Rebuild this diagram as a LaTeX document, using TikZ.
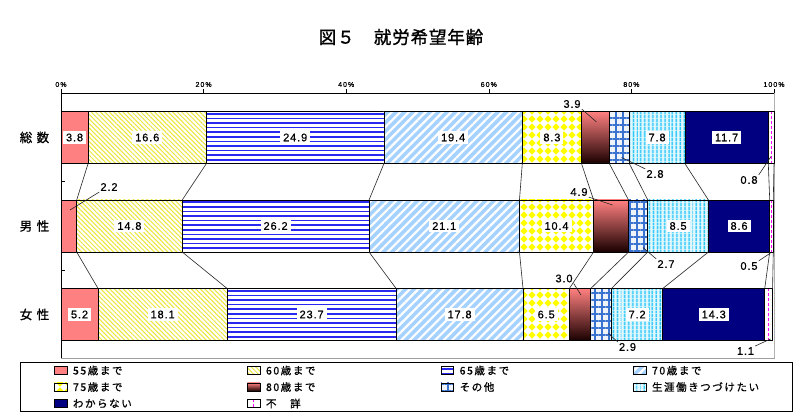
\documentclass[tikz,border=0pt]{standalone}
\usepackage{fontspec}
\usetikzlibrary{patterns}
\usetikzlibrary{patterns.meta}
\setmainfont{Liberation Sans}
\newfontfamily\jpfont[LetterSpace=5,FakeBold=1.2]{Noto Sans CJK JP}
\newfontfamily\catfont[LetterSpace=35,FakeBold=1]{Noto Sans CJK JP}
\newfontfamily\legfont[LetterSpace=15,FakeBold=0.8]{Noto Sans CJK JP}
\newfontfamily\numfont[LetterSpace=8,FakeBold=0.6]{Liberation Sans}
\newfontfamily\tickfont[LetterSpace=15,FakeBold=0.6]{Liberation Sans}
\definecolor{c55}{HTML}{FF8080}
\definecolor{c60}{HTML}{ECE63A}
\definecolor{c65}{HTML}{2828F0}
\definecolor{c70}{HTML}{A6D2FF}
\definecolor{c75}{HTML}{FFFF00}
\definecolor{c80}{HTML}{1A0000}
\definecolor{coth}{HTML}{3A72D0}
\definecolor{clife}{HTML}{1EC4FA}
\definecolor{cnone}{HTML}{000080}
\definecolor{cunk}{HTML}{FF00FF}
\pgfdeclarepatternformonly{ydiamonds}{\pgfpoint{-1pt}{-1pt}}{\pgfpoint{9pt}{9pt}}{\pgfpoint{8pt}{8pt}}{
  \pgfpathmoveto{\pgfpoint{4pt}{0.4pt}}
  \pgfpathlineto{\pgfpoint{7.6pt}{4pt}}
  \pgfpathlineto{\pgfpoint{4pt}{7.6pt}}
  \pgfpathlineto{\pgfpoint{0.4pt}{4pt}}
  \pgfpathclose
  \pgfusepath{fill}}

\begin{document}
\begin{tikzpicture}
[x=1pt, y=-1pt,
every node/.style = {inner sep=0pt}]
\tikzstyle{seg} = [draw=black, line width=0.7pt]
\tikzstyle{swatch} = [draw=black, line width=0.6pt, minimum width=12.5pt, minimum height=8pt]
\tikzstyle{val} = [fill=white, inner xsep=3pt, inner ysep=2.5pt, font={\numfont\fontsize{11}{13}\selectfont}]
\tikzstyle{small} = [inner sep=1pt, font={\numfont\fontsize{11}{13}\selectfont}]
\tikzstyle{leg} = [anchor=west, font={\legfont\fontsize{10.5}{12}\selectfont}]
\tikzstyle{ticklab} = [font={\tickfont\fontsize{7}{8}\selectfont}]
\tikzstyle{lead} = [draw=black!85, line width=0.6pt]
\tikzstyle{link} = [draw=black!85, line width=0.6pt]
\tikzstyle{s55} = [fill=c55]
\tikzstyle{s60} = [preaction={fill=white}, pattern={Lines[angle=-45,distance=3.2pt,line width=1pt]}, pattern color=c60]
\tikzstyle{s65} = [fill=white, path picture={\foreach \k in {0,...,11} \draw[c65, line width=1.6pt] ([yshift={-2.3pt-\k*4.6pt}]path picture bounding box.north west) -- ([yshift={-2.3pt-\k*4.6pt}]path picture bounding box.north east);}]
\tikzstyle{s70} = [preaction={fill=c70}, pattern={Lines[angle=45,distance=6pt,line width=2.2pt]}, pattern color=white]
\tikzstyle{s75} = [preaction={fill=white}, pattern=ydiamonds, pattern color=c75]
\tikzstyle{s80} = [top color=c55, bottom color=c80]
\tikzstyle{soth} = [preaction={fill=coth!8}, pattern={Hatch[angle=0,distance=7pt,line width=1.2pt]}, pattern color=coth]
\tikzstyle{slife} = [preaction={fill=clife!12}, pattern={Lines[angle=90,distance=4pt,line width=1.6pt]}, pattern color=clife]
\tikzstyle{snone} = [fill=cnone]
\tikzstyle{sunk} = [fill=white, path picture={\draw[cunk, dash pattern=on 3pt off 2pt, line width=1.3pt] (path picture bounding box.north) -- (path picture bounding box.south);}]

\path[use as bounding box, fill=white] (0,0) rectangle (807,419);

\node (title) at (401,37) {\jpfont\fontsize{17.5}{20}\selectfont 図５　就労希望年齢};

\node (cat1) at (34.5,137.5) {\catfont\fontsize{12.5}{15}\selectfont 総数};
\node (cat2) at (34.5,226) {\catfont\fontsize{12.5}{15}\selectfont 男性};
\node (cat3) at (34.5,314.5) {\catfont\fontsize{12.5}{15}\selectfont 女性};

% plot frame
\draw[gray!60, line width=1.5pt] (774.5,93) -- (774.5,358.5);
\draw[gray!75, line width=1pt] (61,358.5) -- (775,358.5);
\draw[line width=0.8pt] (61,358.5) -- (61,93) -- (774,93);
\draw (61,181.5) -- (64.5,181.5);
\draw (61,270) -- (64.5,270);

\begin{scope}[xshift=61pt, x=7.13pt]
\foreach \p in {0,20,...,100}{
  \draw (\p,93) -- (\p,89);
  \node[ticklab] (tk\p) at (\p,84.5) {\p\%};
}

% 総数
\foreach \a/\b/\s/\v [count=\i] in {0/3.8/s55/3.8, 3.8/20.4/s60/16.6, 20.4/45.3/s65/24.9, 45.3/64.7/s70/19.4, 64.7/73.0/s75/8.3, 73.0/76.9/s80/0, 76.9/79.7/soth/0, 79.7/87.5/slife/7.8, 87.5/99.2/snone/11.7, 99.2/100/sunk/0}{
  \draw[seg,\s] (\a,111.5) rectangle (\b,163.5);
  \coordinate (t1-\i) at (\b,111.5);
  \coordinate (b1-\i) at (\b,163.5);
  \ifdim\v pt>0pt \node[val] (v1-\i) at ({(\a+\b)/2},137.5) {\v}; \fi
}

% 男性
\foreach \a/\b/\s/\v [count=\i] in {0/2.2/s55/0, 2.2/17.0/s60/14.8, 17.0/43.2/s65/26.2, 43.2/64.3/s70/21.1, 64.3/74.7/s75/10.4, 74.7/79.6/s80/0, 79.6/82.3/soth/0, 82.3/90.8/slife/8.5, 90.8/99.4/snone/8.6, 99.4/99.9/sunk/0}{
  \draw[seg,\s] (\a,200) rectangle (\b,252);
  \coordinate (t2-\i) at (\b,200);
  \coordinate (b2-\i) at (\b,252);
  \ifdim\v pt>0pt \node[val] (v2-\i) at ({(\a+\b)/2},226) {\v}; \fi
}

% 女性
\foreach \a/\b/\s/\v [count=\i] in {0/5.2/s55/5.2, 5.2/23.3/s60/18.1, 23.3/47.0/s65/23.7, 47.0/64.8/s70/17.8, 64.8/71.3/s75/6.5, 71.3/74.3/s80/0, 74.3/77.2/soth/0, 77.2/84.4/slife/7.2, 84.4/98.7/snone/14.3, 98.7/99.8/sunk/0}{
  \draw[seg,\s] (\a,288.5) rectangle (\b,340.5);
  \coordinate (t3-\i) at (\b,288.5);
  \coordinate (b3-\i) at (\b,340.5);
  \ifdim\v pt>0pt \node[val] (v3-\i) at ({(\a+\b)/2},314.5) {\v}; \fi
}

\foreach \i in {1,...,10}{
  \draw[link] (b1-\i) -- (t2-\i);
  \draw[link] (b2-\i) -- (t3-\i);
}
\end{scope}

% small values
\node[small] (v1-6) at (572,104) {3.9};
\node[small] (v1-7) at (655,174) {2.8};
\node[small] (v1-10) at (749,180) {0.8};
\node[small] (v2-1) at (109,187) {2.2};
\node[small] (v2-6) at (579,192) {4.9};
\node[small] (v2-7) at (666,264) {2.7};
\node[small] (v2-10) at (749,266) {0.5};
\node[small] (v3-6) at (564,278.5) {3.0};
\node[small] (v3-7) at (627.5,347) {2.9};
\node[small] (v3-10) at (745.5,351) {1.1};
\coordinate (e1-6) at (596.5,122);
\coordinate (e1-7) at (621.5,157.5);
\coordinate (e1-10) at (771,156.5);
\coordinate (e2-1) at (70,210);
\coordinate (e2-6) at (612.5,205);
\coordinate (e2-7) at (643,247.5);
\coordinate (e2-10) at (770.5,253);
\coordinate (e3-6) at (581,295);
\coordinate (e3-7) at (608.3,333.5);
\coordinate (e3-10) at (770.5,339);
\draw[lead] (v1-6.south east) -- (e1-6);
\draw[lead] (v1-7.north west) -- (e1-7);
\draw[lead] (v1-10.north east) -- (e1-10);
\draw[lead] (v2-1.south west) -- (e2-1);
\draw[lead] (v2-6.south east) -- (e2-6);
\draw[lead] (v2-7.north west) -- (e2-7);
\draw[lead] (v2-10.north east) -- (e2-10);
\draw[lead] (v3-6.south east) -- (e3-6);
\draw[lead] (v3-7.north west) -- (e3-7);
\draw[lead] (v3-10.north east) -- (e3-10);

% legend
\draw[line width=0.8pt] (20.5,362) rectangle (792.5,411.5);
\foreach \s/\t/\x/\y [count=\i] in {s55/55歳まで/54.3/370.5, s60/60歳まで/247.3/370.5, s65/65歳まで/441/370.5, s70/70歳まで/633.3/370.5, s75/75歳まで/54.3/387, s80/80歳まで/247.3/387, soth/その他/441/387, slife/生涯働きつづけたい/633.3/387, snone/わからない/54.3/403.5, sunk/不　詳/247.3/403.5}{
  \node[swatch,\s] (k\i) at (\x+6.25,\y) {};
  \node[leg] (l\i) at (\x+18.5,\y) {\t};
}

\end{tikzpicture}
\end{document}
